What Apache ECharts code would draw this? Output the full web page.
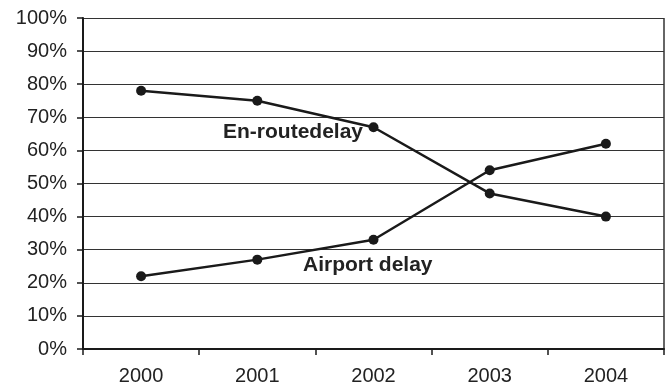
<!DOCTYPE html>
<html>
<head>
<meta charset="utf-8">
<script src="https://cdn.jsdelivr.net/npm/echarts@6/dist/echarts.min.js"></script>
<style>
  html, body { margin: 0; padding: 0; background: #fff; }
  #chart { width: 667px; height: 384px; }
</style>
</head>
<body>
<div id="chart"></div>
<script>
// Years on the category axis
const years = ['2000', '2001', '2002', '2003', '2004'];
// Share of total delay (%)
const enRouteDelay = [78, 75, 67, 47, 40];
const airportDelay = [22, 27, 33, 54, 62];

const chart = echarts.init(document.getElementById('chart'), null, { renderer: 'canvas' });

const FONT = 'Liberation Sans, Arial, sans-serif';

const lineSeries = (name, data) => ({
  name,
  type: 'line',
  data,
  symbol: 'circle',
  symbolSize: 10,
  lineStyle: { color: '#1a1a1a', width: 2.5 },
  itemStyle: { color: '#1a1a1a' },
  emphasis: { disabled: true },
  animation: false
});

chart.setOption({
  backgroundColor: '#fff',
  animation: false,
  grid: { left: 83, right: 3, top: 18, bottom: 35, containLabel: false, outerBoundsMode: 'none' },
  xAxis: {
    type: 'category',
    data: years,
    boundaryGap: true,
    axisLine: { lineStyle: { color: '#1a1a1a', width: 2 } },
    axisTick: { show: true, length: 6, lineStyle: { color: '#1a1a1a', width: 1.5 } },
    axisLabel: { color: '#222', fontSize: 20, fontFamily: FONT, margin: 17 },
    splitLine: { show: false }
  },
  yAxis: {
    type: 'value',
    min: 0,
    max: 100,
    interval: 10,
    axisLine: { show: true, lineStyle: { color: '#1a1a1a', width: 2 } },
    axisTick: { show: true, length: 6, lineStyle: { color: '#1a1a1a', width: 1.5 } },
    axisLabel: { color: '#222', fontSize: 20, fontFamily: FONT, margin: 16, formatter: '{value}%' },
    splitLine: { show: true, lineStyle: { color: '#333', width: 1.2 } }
  },
  series: [
    lineSeries('En-route delay', enRouteDelay),
    lineSeries('Airport delay', airportDelay)
  ],
  graphic: [
    // right-hand frame of the plot area
    { type: 'line', shape: { x1: 664, y1: 18, x2: 664, y2: 349 }, style: { stroke: '#333', lineWidth: 1.5 } },
    { type: 'text', x: 223, y: 132, style: { text: 'En-routedelay', font: 'bold 21px ' + FONT, fill: '#222', verticalAlign: 'middle' } },
    { type: 'text', x: 303, y: 265, style: { text: 'Airport delay', font: 'bold 21px ' + FONT, fill: '#222', verticalAlign: 'middle' } }
  ]
});
</script>
</body>
</html>
